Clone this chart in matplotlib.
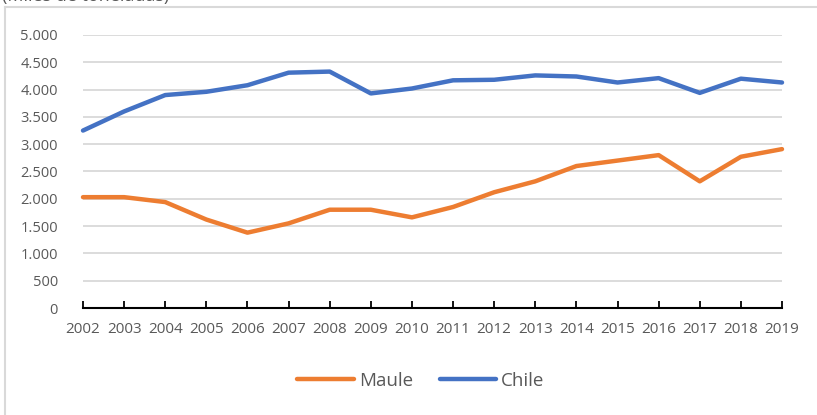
import matplotlib
matplotlib.use("Agg")
import matplotlib.pyplot as plt
from matplotlib.lines import Line2D

years = ["2002", "2003", "2004", "2005", "2006", "2007", "2008", "2009", "2010",
         "2011", "2012", "2013", "2014", "2015", "2016", "2017", "2018", "2019"]
maule = [2030, 2030, 1940, 1620, 1380, 1550, 1800, 1800, 1660, 1850, 2120, 2320,
         2600, 2700, 2800, 2320, 2770, 2910]
chile = [3250, 3600, 3900, 3960, 4080, 4310, 4330, 3930, 4020, 4170, 4180, 4260,
         4240, 4130, 4210, 3940, 4200, 4130]
yticks = [0, 500, 1000, 1500, 2000, 2500, 3000, 3500, 4000, 4500, 5000]
ytick_labels = ["0", "500", "1.000", "1.500", "2.000", "2.500", "3.000", "3.500",
                "4.000", "4.500", "5.000"]
title_text = "(Miles de toneladas)"

plt.rcParams['font.family'] = ['Open Sans', 'DejaVu Sans']
W, H = 817, 415
fig = plt.figure(figsize=(W / 100, H / 100), dpi=100)
ax = fig.add_axes([83 / W, 1 - 308 / H, (782 - 83) / W, (308 - 35) / H])

x = list(range(len(years)))
ax.plot(x, maule, color="#ED7D31", lw=3.2, solid_capstyle="round",
        solid_joinstyle="round", label="Maule", clip_on=False, zorder=3)
ax.plot(x, chile, color="#4472C4", lw=3.2, solid_capstyle="round",
        solid_joinstyle="round", label="Chile", clip_on=False, zorder=3)

ax.set_xlim(0, len(years) - 1)
ax.set_ylim(0, 5000)
ax.set_yticks(yticks)
ax.set_yticklabels(ytick_labels)
ax.set_xticks(x)
ax.set_xticklabels(years)
for y in yticks[1:]:
    ax.axhline(y, color="#D9D9D9", lw=1.3, zorder=1)

for s in ["top", "right", "left"]:
    ax.spines[s].set_visible(False)
ax.spines["bottom"].set_color("black")
ax.spines["bottom"].set_linewidth(1.5)
ax.spines["bottom"].set_zorder(4)
ax.tick_params(axis="y", length=0, pad=18, labelsize=10.5, labelcolor="#595959")
ax.tick_params(axis="x", direction="in", length=5, width=1.3, color="black",
               pad=10, labelsize=11, labelcolor="#595959")

leg = fig.legend(loc="center", bbox_to_anchor=(421 / W, 1 - 381 / H), ncol=2,
                 frameon=False, fontsize=13.5, handlelength=3.0, handletextpad=0.3,
                 columnspacing=1.4, labelcolor="#595959")

# chart area border
fig.add_artist(Line2D([5 / W, 1], [1 - 7 / H, 1 - 7 / H], color="#D9D9D9", lw=1.5,
                      transform=fig.transFigure))
fig.add_artist(Line2D([5 / W, 5 / W], [0, 1 - 7 / H], color="#D9D9D9", lw=1.5,
                      transform=fig.transFigure))
fig.text(2 / W, 1 - 0.5 / H, title_text, fontsize=13, color="#595959",
         ha="left", va="baseline")

fig.savefig("out.png", dpi=100)
